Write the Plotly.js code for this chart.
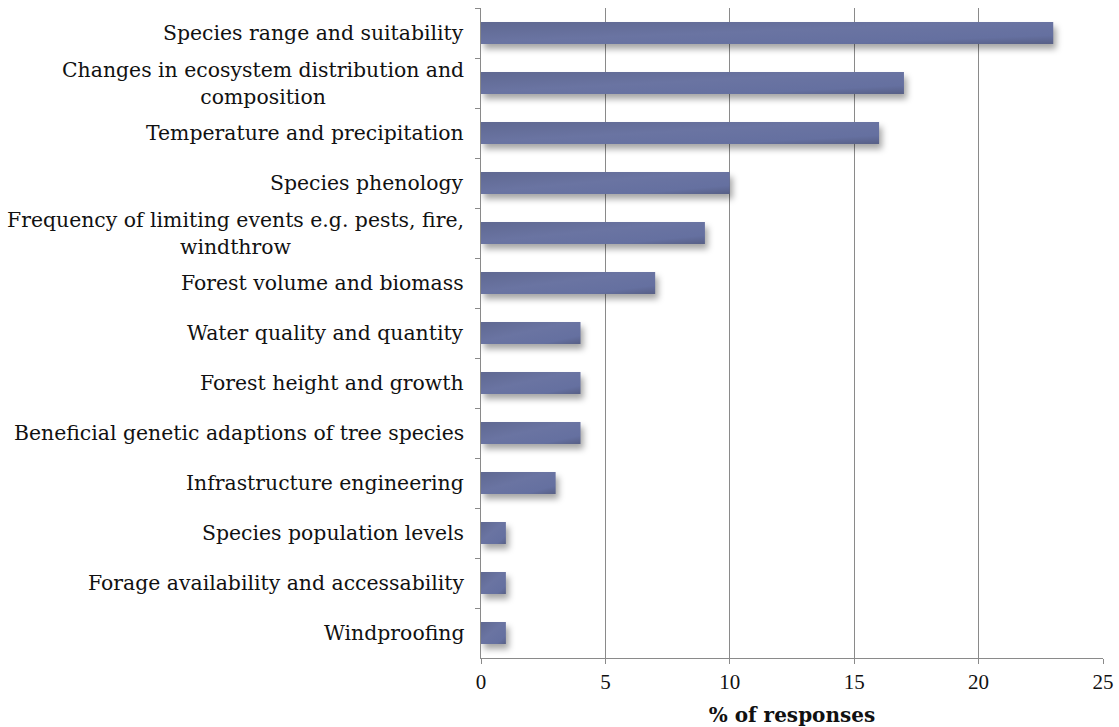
<!DOCTYPE html>
<html>
<head>
<meta charset="utf-8">
<script src="https://cdn.plot.ly/plotly-3.0.1.min.js"></script>
<style>
  html, body { margin: 0; padding: 0; background: #fff; }
  #chart { width: 1119px; height: 727px; }
  /* shaded bar face with a soft drop shadow */
  .barlayer .point path {
    fill: url(#barShade) !important;
    filter: drop-shadow(3px 5px 3px rgba(0,0,0,0.35));
  }
</style>
</head>
<body>
<svg width="0" height="0" style="position:absolute">
  <defs>
    <linearGradient id="barShade" x1="0" y1="0" x2="1" y2="1">
      <stop offset="0" stop-color="#5f6891"/>
      <stop offset="0.45" stop-color="#6a74a2"/>
      <stop offset="0.8" stop-color="#6570a0"/>
      <stop offset="1" stop-color="#575f86"/>
    </linearGradient>
  </defs>
</svg>
<div id="chart"></div>
<script>
// Survey topics (top to bottom) and share of responses (%)
const categories = [
  "Species range and suitability",
  "Changes in ecosystem distribution and<br>composition",
  "Temperature and precipitation",
  "Species phenology",
  "Frequency of limiting events e.g. pests, fire,<br>windthrow",
  "Forest volume and biomass",
  "Water quality and quantity",
  "Forest height and growth",
  "Beneficial genetic adaptions of tree species",
  "Infrastructure engineering",
  "Species population levels",
  "Forage availability and accessability",
  "Windproofing"
];
const responses = [23, 17, 16, 10, 9, 7, 4, 4, 4, 3, 1, 1, 1];
const xTicks = [0, 5, 10, 15, 20, 25];

const labelFont = { family: "DejaVu Serif", size: 20.4, color: "#111" };

// Category labels are drawn as centred multi-line annotations on the y axis positions
const labelAnnotations = categories.map(c => ({
  xref: "paper", yref: "y", x: 0, y: c,
  text: c, showarrow: false,
  xanchor: "right", yanchor: "middle", align: "center",
  xshift: -15, font: labelFont
}));

const trace = {
  type: "bar", orientation: "h",
  x: responses, y: categories,
  marker: { color: "#6670a0", line: { width: 0 } },
  hoverinfo: "x+y"
};

const layout = {
  width: 1119, height: 727,
  margin: { l: 481, r: 16, t: 8, b: 69 },
  paper_bgcolor: "#fff", plot_bgcolor: "#fff",
  bargap: 0.56,
  showlegend: false,
  xaxis: {
    range: [0, 25], tickvals: xTicks, ticktext: xTicks.map(String),
    showgrid: true, gridcolor: "#8a8a8a", gridwidth: 1,
    showline: true, linecolor: "#8a8a8a", linewidth: 1,
    ticks: "outside", ticklen: 5, tickcolor: "#8a8a8a",
    tickfont: { family: "Liberation Serif", size: 21, color: "#111" },
    zeroline: false,
    title: { text: "<b>% of responses</b>", font: { family: "DejaVu Serif", size: 20, color: "#111" }, standoff: 15 }
  },
  yaxis: {
    type: "category", categoryorder: "array", categoryarray: categories,
    autorange: "reversed",
    showticklabels: false,
    showgrid: false, zeroline: false,
    showline: true, linecolor: "#8a8a8a", linewidth: 1,
    ticks: "outside", ticklen: 5, tickcolor: "#8a8a8a", tickson: "boundaries"
  },
  annotations: labelAnnotations
};

Plotly.newPlot("chart", [trace], layout, { displayModeBar: false, staticPlot: true });
</script>
</body>
</html>
